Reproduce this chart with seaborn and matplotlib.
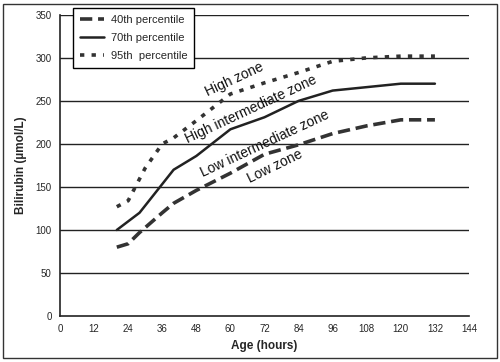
import numpy as np
import pandas as pd
import matplotlib
matplotlib.use("Agg")
import matplotlib.pyplot as plt
import seaborn as sns
from matplotlib.patches import Rectangle

# hour-specific bilirubin percentile curves
hours_40 = [20, 24, 28, 36, 40, 48, 60, 72, 84, 96, 108, 120, 132]
bili_40 = [80, 84, 97, 120, 131, 146, 166, 188, 199, 212, 221, 228, 228]

hours_70 = [20, 28, 40, 48, 60, 72, 84, 96, 108, 120, 132]
bili_70 = [100, 120, 170, 186, 217, 231, 250, 262, 266, 270, 270]

hours_95 = [20, 24, 30, 36, 40, 48, 60, 72, 84, 96, 108, 120, 132]
bili_95 = [127, 134, 172, 200, 207, 227, 258, 271, 283, 296, 300, 302, 302]

labels = ["40th percentile", "70th percentile", "95th  percentile"]
zones = ["High zone", "High intermediate zone", "Low intermediate zone", "Low zone"]

x_ticks = list(range(0, 145, 12))
y_ticks = list(range(0, 351, 50))

sns.set_style("white")
plt.rcParams['font.family'] = ['Liberation Sans', 'DejaVu Sans']

fig = plt.figure(figsize=(5, 3.62), dpi=100)
ax = fig.add_axes([0.12, 0.127, 0.818, 0.832])

for yv in y_ticks[1:]:
    ax.axhline(yv, color="#222222", lw=1.0, zorder=0)

sns.lineplot(x=hours_40, y=bili_40, ax=ax, color="#333333", lw=2.6,
             linestyle=(0, (3.4, 1.6)), label=labels[0])
sns.lineplot(x=hours_70, y=bili_70, ax=ax, color="#222222", lw=1.8,
             label=labels[1])
sns.lineplot(x=hours_95, y=bili_95, ax=ax, color="#333333", lw=2.6,
             linestyle=(0, (1.2, 2.0)), label=labels[2])
for ln in ax.get_lines():
    ln.set_dash_capstyle("butt")

zone_pos = [(52, 255, 25), (45, 201, 25), (50.5, 161, 25), (67, 155, 26)]
for txt, (zx, zy, rot) in zip(zones, zone_pos):
    ax.text(zx, zy, txt, rotation=rot, rotation_mode="anchor", ha="left",
            va="baseline", fontsize=10, color="#111111")

ax.set_xlim(0, 144)
ax.set_ylim(0, 350)
ax.set_xticks(x_ticks)
ax.set_yticks(y_ticks)
ax.tick_params(axis="both", labelsize=7, direction="out", length=3, width=1,
               color="#222222", pad=3)
ax.set_xlabel("Age (hours)", fontsize=8.5, fontweight="bold", labelpad=4)
ax.set_ylabel("Bilirubin (µmol/L)", fontsize=8.5, fontweight="bold", labelpad=6)

sns.despine(ax=ax, top=True, right=True)
ax.spines["left"].set_color("#222222")
ax.spines["bottom"].set_color("#222222")
ax.spines["left"].set_linewidth(1.2)
ax.spines["bottom"].set_linewidth(1.2)

leg = ax.legend(loc="upper left", bbox_to_anchor=(0.146, 0.978),
                bbox_transform=fig.transFigure, fontsize=8, frameon=True,
                fancybox=False, framealpha=1, edgecolor="black",
                handlelength=2.2, handletextpad=0.6, borderpad=0.6,
                labelspacing=0.75, borderaxespad=0)
leg.get_frame().set_linewidth(1.0)

fig.patches.append(Rectangle((0.006, 0.01), 0.988, 0.98, transform=fig.transFigure,
                             fill=False, edgecolor="#333333", lw=1.0))

fig.savefig("out.png", dpi=100)
